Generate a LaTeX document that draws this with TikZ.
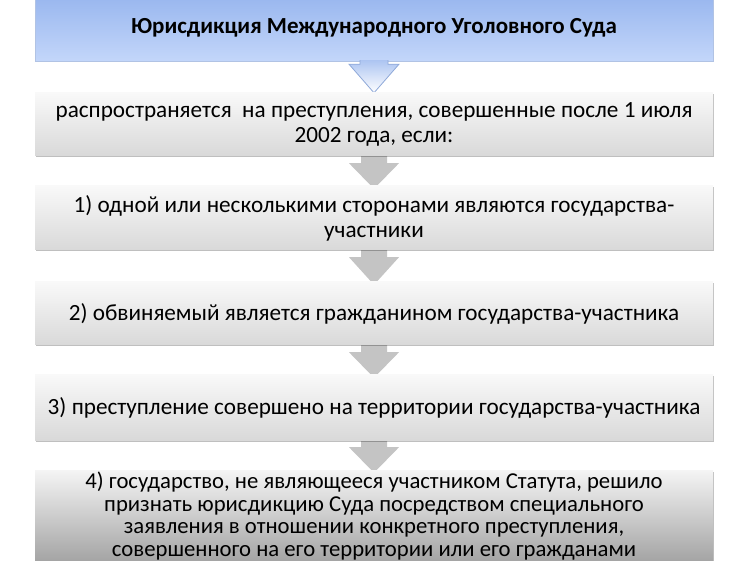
\documentclass[tikz,border=0pt]{standalone}
\usepackage{fontspec}
\setmainfont{Carlito}
\usetikzlibrary{shadows,calc}
\definecolor{bluetop}{HTML}{98B6EE}
\definecolor{bluebot}{HTML}{C3D6FA}
\definecolor{blueedge}{HTML}{8FA9D9}
\definecolor{arrowgray}{HTML}{C4C4C4}
\newcommand\blockarr[3]{%
  \path[#3] ($(#1.south)+(-13,-6)$) -- ($(#1.south)+(-13,7)$) -- ($(#1.south)+(-25,7)$)
    -- ($(#2.north)+(0,3)$) -- ($(#1.south)+(25,7)$) -- ($(#1.south)+(13,7)$)
    -- ($(#1.south)+(13,-6)$) -- cycle;}
\begin{document}
\begin{tikzpicture}[x=1pt,y=-1pt,
  boxshadow/.style={drop shadow={shadow xshift=1.2pt,shadow yshift=-1.5pt,opacity=0.25,fill=black}},
  titlebox/.style={rectangle,minimum width=678pt,minimum height=66pt,inner sep=0pt,
    top color=bluetop,bottom color=bluebot,draw=blueedge!70,line width=0.4pt,boxshadow,
    font=\fontsize{23}{26}\selectfont\bfseries},
  graybox/.style={rectangle,minimum width=678pt,inner sep=0pt,align=center,
    top color=gray!5,bottom color=gray!30,boxshadow,
    font=\fontsize{23.2}{25}\selectfont},
  lastbox/.style={graybox,top color=gray!8,bottom color=gray!72,
    font=\fontsize{22.7}{22.6}\selectfont},
  grayarrow/.style={fill=arrowgray},
  bluearrow/.style={top color=bluetop!80,bottom color=white,draw=blueedge,line width=0.8pt}
]
\useasboundingbox (0,0) rectangle (750,561);
\fill[white] (0,0) rectangle (750,561);

\path (374,28) node[titlebox] (t) {Юрисдикция Международного Уголовного Суда};
\path (374,124.5) coordinate (c1) (374,218) coordinate (c2) (374,313.5) coordinate (c3)
      (374,407.5) coordinate (c4) (374,516) coordinate (c5);
% invisible placeholders used to route the block arrows
\path (c1) node[rectangle,minimum width=678pt,minimum height=63pt,inner sep=0pt] (b1) {};
\path (c2) node[rectangle,minimum width=678pt,minimum height=64pt,inner sep=0pt] (b2) {};
\path (c3) node[rectangle,minimum width=678pt,minimum height=63pt,inner sep=0pt] (b3) {};
\path (c4) node[rectangle,minimum width=678pt,minimum height=65pt,inner sep=0pt] (b4) {};
\path (c5) node[rectangle,minimum width=678pt,minimum height=92pt,inner sep=0pt] (b5) {};

% arrows
\path[bluearrow] ($(t.south)+(-14,-1)$) -- ($(t.south)+(-14,3)$) -- ($(t.south)+(-25,3)$)
    -- (b1.north) -- ($(t.south)+(25,3)$) -- ($(t.south)+(14,3)$)
    -- ($(t.south)+(14,-1)$);
\blockarr{b1}{b2}{grayarrow}
\blockarr{b2}{b3}{grayarrow}
\blockarr{b3}{b4}{grayarrow}
\blockarr{b4}{b5}{grayarrow}

% visible boxes
\path (c1) node[graybox,minimum height=63pt] (v1)
  {распространяется\ \ на преступления, совершенные после 1 июля\\2002 года, если:};
\path (c2) node[graybox,minimum height=64pt] (v2)
  {1) одной или несколькими сторонами являются государства-\\участники};
\path (c3) node[graybox,minimum height=63pt] (v3)
  {2) обвиняемый является гражданином государства-участника};
\path (c4) node[graybox,minimum height=65pt] (v4)
  {3) преступление совершено на территории государства-участника};
\path (c5) node[lastbox,minimum height=92pt] (v5)
  {4) государство, не являющееся участником Статута, решило\\признать юрисдикцию Суда посредством специального\\заявления в отношении конкретного преступления,\\совершенного на его территории или его гражданами};
\end{tikzpicture}
\end{document}
